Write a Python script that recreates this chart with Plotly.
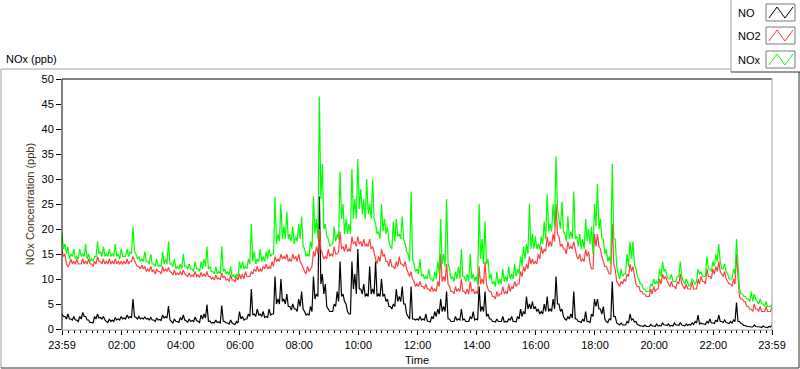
import plotly.graph_objects as go

# ---------------- data ----------------
# Upper readings every 6 minutes starting at 23:59 (minute 0) ... 23:59 next day (1440),
# and lower-band readings taken half-way between them (minute 3, 9, ...).
minutes_main = [k * 6 for k in range(241)]
minutes_mid = [k * 6 + 3 for k in range(240)]

no_main = [
    3, 2.5, 3, 2, 2.5, 1.8, 2.5, 3.3, 2.5, 1.8,
    1.3, 2.5, 3, 2.3, 2.5, 1.5, 2, 1.8, 2.3, 2,
    2.5, 2.2, 2.8, 2.5, 6, 2.3, 2.5, 2.2, 2.4, 2.1,
    2.3, 1.8, 2.2, 1.9, 2.8, 2.5, 4.6, 1.5, 2, 1.5,
    2.3, 2.8, 1.6, 2, 1.7, 2.4, 1.5, 2.8, 3, 4.9,
    1.6, 1.3, 1.8, 1.4, 4.7, 1.5, 1.2, 1.8, 1, 1.5,
    3.5, 2.5, 2, 3, 8, 3, 4, 3, 3.5, 2.5,
    4, 3, 10.5, 6, 10, 6, 7, 4.5, 5, 4,
    6, 7.5, 3.5, 3, 4.5, 10.5, 7, 26.5, 11, 9,
    4, 3.5, 5, 7.5, 13.5, 7, 5, 3, 13.5, 11,
    16, 8, 9, 7, 12.5, 8, 13.5, 7, 10, 7,
    6, 4.5, 5, 8, 6.5, 8.5, 5, 2.5, 8.5, 2,
    2, 2.5, 2, 3, 1.5, 2.5, 3.5, 4, 6, 4.5,
    7.5, 2, 1.5, 2.5, 2, 4, 2, 1.5, 2.5, 3.5,
    2, 8.5, 4.5, 7.5, 3, 2, 1.5, 2, 1.5, 2.5,
    1.5, 2, 2.5, 1.5, 2.5, 4, 3.5, 6.5, 5, 5.5,
    4.5, 4, 3.5, 5, 6.5, 4, 6, 10.5, 5, 4,
    2, 2.5, 3, 7.5, 2, 1.5, 2, 3.5, 1.5, 3,
    6, 6, 4, 4.5, 1.5, 2, 9.5, 2.5, 1, 1.2,
    0.8, 1.5, 3, 2, 1.5, 0.8, 0.6, 0.8, 0.5, 0.9,
    0.6, 1, 0.7, 1.2, 0.8, 1, 0.7, 1.2, 0.8, 1.3,
    0.7, 1, 0.9, 1.2, 1.5, 2.8, 1.2, 1, 1.5, 2,
    1.2, 1.8, 2.8, 1.5, 1.8, 1.2, 1.5, 1.8, 5.3, 1.5,
    1, 0.7, 0.5, 0.4, 0.8, 0.5, 0.4, 0.6, 0.3, 0.5,
    0.8,
]
no_mid = [
    2.5, 2, 2, 1.8, 1.8, 1.5, 2, 2.5, 1.8, 1.3,
    1.2, 2, 2.2, 2, 1.8, 1.3, 1.5, 1.5, 1.8, 1.8,
    2, 2, 2.2, 2.3, 2.5, 2, 2, 2, 2, 1.8,
    1.8, 1.5, 1.8, 1.7, 2.2, 2.2, 1.8, 1.2, 1.5, 1.3,
    1.8, 1.8, 1.4, 1.5, 1.5, 1.7, 1.3, 2, 2.2, 1.5,
    1.2, 1.2, 1.3, 1.2, 1.6, 1.2, 1, 1.2, 0.9, 1.2,
    2, 1.8, 2, 2.5, 2.8, 2.5, 2.8, 2.5, 2.3, 2.3,
    2.8, 3, 5, 5, 5.5, 5, 4.5, 3.8, 4, 3.5,
    4.5, 4, 2.8, 2.8, 3.5, 6, 6.5, 9, 7, 4.5,
    3.5, 3.5, 4.5, 5.5, 6.5, 5.5, 3.5, 3, 8, 7,
    8, 7, 6.5, 6.5, 7, 7, 6.5, 6.5, 6.5, 5.5,
    4.5, 4, 4.5, 5.5, 5.5, 5, 3, 2, 2, 1.8,
    1.8, 1.8, 1.8, 1.6, 1.4, 2, 2.5, 3, 3.5, 3.5,
    2, 1.5, 1.5, 1.8, 1.8, 1.8, 1.5, 1.5, 2, 1.8,
    1.8, 3.5, 3.5, 2.5, 2, 1.5, 1.4, 1.5, 1.5, 1.4,
    1.4, 1.8, 1.5, 1.4, 2, 2.5, 3, 4, 4, 4,
    3.5, 3, 3, 3.5, 3.5, 3.5, 4, 5, 3.5, 2.5,
    1.8, 2, 2.2, 2, 1.5, 1.3, 1.5, 1.5, 1.3, 2.5,
    4.5, 4, 3, 2, 1.3, 1.8, 2.5, 1.2, 0.8, 0.8,
    0.8, 1.2, 1.8, 1.4, 0.9, 0.6, 0.5, 0.5, 0.5, 0.6,
    0.5, 0.6, 0.6, 0.8, 0.7, 0.6, 0.6, 0.8, 0.7, 0.8,
    0.6, 0.7, 0.8, 0.9, 1.2, 1, 1, 0.9, 1.2, 1.2,
    1.1, 1.4, 1.5, 1.3, 1.3, 1.1, 1.2, 1.5, 1.5, 1.1,
    0.7, 0.5, 0.4, 0.4, 0.5, 0.4, 0.3, 0.4, 0.3, 0.4,
]

no2_main = [
    15.8, 15, 12.5, 14, 13.5, 14, 13, 14, 13.5, 14,
    13, 13.5, 14.5, 13.5, 14, 13.5, 14, 13.5, 14, 13.5,
    13.5, 13.5, 14, 13.5, 14.5, 13, 12.5, 12.8, 12.5, 12,
    12.5, 11.8, 12, 11.5, 12.5, 12, 12.3, 11.3, 11.8, 11.2,
    11.5, 11.8, 10.8, 11.2, 10.8, 11.5, 10.8, 11.3, 11, 11.5,
    10.5, 10.3, 10.8, 10.2, 11.2, 10.5, 10, 10.8, 9.8, 10.5,
    11, 11, 11.5, 10.5, 11.5, 12, 12.5, 12, 12.5, 13,
    12.5, 13.5, 14.5, 14, 15, 14.5, 15, 14, 15, 14.5,
    15, 13, 11.5, 12.5, 12, 15.5, 16.5, 20, 15, 14.5,
    16, 15, 16.5, 15, 19.5, 16.5, 17, 16, 18.5, 17.5,
    18.5, 17.5, 18, 17, 18, 16.5, 14, 14.5, 16, 15,
    13.5, 14, 12.5, 13.5, 14.5, 13, 13.5, 11, 11.5, 9.5,
    9, 9.5, 8.5, 9, 8, 8.5, 8, 9.5, 15, 10.5,
    13, 8.5, 7.5, 8.5, 8, 10, 7.5, 8, 9.5, 8,
    7.5, 12.5, 10, 13.5, 8, 7.5, 6.5, 7.5, 7, 8.5,
    7.5, 9, 8.5, 9.5, 9, 11.5, 12.5, 13, 14.5, 14,
    13.5, 15, 16.5, 16, 18.5, 17.5, 19, 25, 18.5, 17,
    16, 17.5, 16.5, 17.5, 14.5, 15, 14, 16, 15.5, 12,
    19, 19, 16, 13.5, 12.5, 11, 21, 12, 9, 9.5,
    10, 11, 13, 12.5, 9, 8.5, 7.5, 7, 6.5, 8,
    8.5, 8, 10, 11, 10.5, 9, 9.5, 8.5, 9.5, 11,
    8.5, 9, 8, 9.5, 8, 10, 10.5, 9.5, 12, 10.5,
    12, 12.5, 13.5, 11, 11.5, 9.5, 9, 10, 15, 6.5,
    6, 5.5, 4.5, 4, 5, 4, 4.5, 3.5, 4.5, 3.5,
    4.5,
]
no2_mid = [
    14.5, 13, 13, 13, 13, 13, 13, 13, 13, 13,
    12.5, 13, 13.5, 13, 13, 13, 13, 13, 13, 13,
    13, 13, 13, 13.5, 13.5, 12.5, 12, 12, 11.5, 11.5,
    11.5, 11, 11.5, 11, 11.5, 11.5, 11.5, 10.8, 10.8, 10.8,
    10.8, 11, 10.5, 10.5, 10.5, 10.5, 10.3, 10.5, 10.5, 10.5,
    10, 9.8, 10, 9.8, 10.3, 9.8, 9.5, 9.8, 9.5, 9.8,
    10, 10, 10.5, 10.5, 11, 11.5, 11.5, 11.5, 12, 12,
    12, 12.5, 13.5, 13.5, 14, 14, 13.5, 13.5, 14, 13.5,
    13.5, 12, 11, 11.5, 12.5, 14.5, 15, 16, 14, 14,
    14.5, 14.5, 15, 15.5, 16, 15.5, 15.5, 15.5, 17, 16.5,
    17, 16.5, 16.5, 16.5, 16, 15, 13, 13.5, 14.5, 13.5,
    12.5, 12.5, 12, 12.5, 13, 12.5, 12, 10.5, 10, 8.5,
    8.5, 8.5, 8, 8, 7.5, 7.5, 7.5, 8.5, 9.5, 9.5,
    9, 7.5, 7, 7.5, 7.5, 7.5, 7, 7, 7.5, 7,
    7, 9, 9, 9, 7.5, 6.5, 6, 6.5, 7, 7,
    7, 7.5, 8, 8.5, 9, 10.5, 11.5, 12, 13, 13,
    13, 14, 15, 15.5, 16.5, 16.5, 17.5, 19, 16.5, 16,
    15, 16, 16, 15.5, 14, 13.5, 13.5, 14.5, 13, 12,
    16.5, 16.5, 14.5, 12.5, 11.5, 11, 13, 9.5, 8.5, 9,
    9.5, 10.5, 11.5, 10.5, 8.5, 7.5, 7, 6.5, 6.5, 7,
    7.5, 8, 9, 10, 9.5, 8.5, 8.5, 8, 9, 9,
    8, 8, 8, 8, 8, 9, 9.5, 9, 10.5, 10,
    11, 11.5, 11.5, 10.5, 10, 9, 8.5, 9, 10, 6,
    5.5, 4.5, 4, 3.5, 4, 3.5, 3.5, 3.5, 3.5, 3.5,
]

nox_main = [
    19, 17, 16.5, 15, 16, 14.5, 16, 15, 17, 15,
    14, 14.5, 17.5, 15.5, 16.5, 15, 16, 15, 17, 15,
    16, 14.5, 16, 15.5, 20.5, 15, 14.5, 14, 15.5, 13.5,
    15, 13, 14, 12.8, 15.5, 14, 17.5, 13, 14, 12.5,
    13, 15, 12.5, 13, 12, 13.5, 12, 13.5, 14, 16.5,
    12.5, 11.5, 12.5, 11.5, 16.5, 12, 11.5, 12.5, 10.8, 11,
    13.5, 13.5, 12.5, 14, 21, 15.5, 14, 16, 14.5, 15.5,
    16, 15, 26.5, 19, 25, 20.5, 23.5, 19, 20.5, 18.5,
    21, 22.5, 16, 15, 17.5, 26.5, 22, 46.5, 33, 21,
    18, 17, 20.5, 19, 31.5, 25, 22, 21, 32, 26,
    34, 28, 26, 30, 25, 30, 21, 19.5, 25, 22,
    20.5, 16.5, 21.5, 22, 19, 22.5, 17, 15, 27.5, 13,
    12, 14, 11, 10.5, 12, 10, 11.5, 13.5, 22, 15,
    26, 12, 10.5, 11.5, 12.5, 16, 10.5, 11, 15, 11,
    10.5, 25, 18, 21.5, 14, 11, 9.5, 11.5, 10, 12,
    10.5, 12.5, 11, 13, 12, 14.5, 16.5, 17, 25, 19,
    18.5, 17, 18.5, 21.5, 27, 21, 25, 34.5, 22, 25.5,
    19, 22.5, 19.5, 27.5, 18.5, 19, 18, 22, 20, 20.5,
    25, 29, 22, 18, 16, 14.5, 33, 18, 11, 12,
    11, 15, 17.5, 17.5, 12, 10, 9, 8, 7.5, 9,
    10, 9.5, 12, 13.5, 12, 10, 11, 9.5, 10.5, 13.5,
    9.5, 10, 8.5, 10, 9, 12, 11.5, 10.5, 14.5, 12,
    13.5, 15, 17, 12, 13, 11, 10, 12, 18, 8,
    7, 6.5, 6, 7.5, 7, 5.5, 6, 5, 5.5, 4.5,
    5,
]
nox_mid = [
    16, 15, 14, 14.5, 14, 14, 14.5, 14.5, 14, 13.5,
    13.5, 14.5, 15, 14.5, 14.5, 14.5, 14.5, 14.5, 14.5, 14,
    14.5, 14.5, 14.5, 15, 15.5, 14, 13.5, 13.5, 13.5, 13,
    13, 12.5, 12.5, 12.5, 13, 13, 13, 12.5, 12, 12,
    12, 12.5, 12, 12, 11.5, 12, 11.5, 12, 12.5, 12,
    11.5, 11, 11, 11, 11.5, 11, 10.8, 10.5, 10.2, 10.5,
    12, 12, 12, 13, 13.5, 13, 13.5, 13.5, 13.5, 14,
    14.5, 15, 17, 17.5, 18, 18, 18, 17.5, 17, 17.5,
    18, 16.5, 14.5, 14.5, 16, 19, 18, 26, 20, 18.5,
    16.5, 17, 17.5, 18, 22, 19, 19, 19, 22, 22,
    24, 23, 22, 23, 22, 22, 19, 18, 19.5, 19,
    17.5, 16, 17.5, 18.5, 18, 18, 15.5, 13.5, 14, 11.5,
    11, 10.5, 10, 10, 10, 9.5, 10, 11, 13, 12.5,
    13, 10, 9.5, 10, 10, 10.5, 9.5, 9.5, 10, 9.5,
    9, 14, 13, 13, 10, 9, 8.5, 9, 9, 9.5,
    9.5, 10, 10, 10.5, 11, 12.5, 14, 15, 16, 16,
    16, 16, 17, 18, 19.5, 19.5, 20.5, 24, 20, 19.5,
    17.5, 18, 18, 18, 16.5, 16, 16, 17.5, 17, 15,
    20.5, 20, 18, 15, 13.5, 13, 18, 12.5, 10, 10.5,
    11, 12.5, 14, 13, 10.5, 9, 8, 7.5, 7.5, 8.5,
    9, 9, 10.5, 11.5, 10.5, 10, 9.5, 9.5, 10.5, 10.5,
    9, 9, 9, 9.5, 9.5, 11, 10.5, 10.5, 12, 11.5,
    12.5, 13.5, 13.5, 12, 11.5, 10, 10, 11, 12, 7,
    6.5, 6, 5.5, 5.5, 6, 5, 5, 4.5, 4.5, 4.5,
]

tick_minutes = [0, 121, 241, 361, 481, 601, 721, 841, 961, 1081, 1201, 1321, 1440]
tick_labels = ["23:59", "02:00", "04:00", "06:00", "08:00", "10:00", "12:00",
               "14:00", "16:00", "18:00", "20:00", "22:00", "23:59"]

series_names = ["NO", "NO2", "NOx"]
series_colors = ["#000000", "#ff4040", "#00ff00"]


def merge(main_t, main_v, mid_t, mid_v):
    """Put the two sets of readings in time order."""
    t, v = [], []
    for k in range(len(mid_t)):
        t += [main_t[k], mid_t[k]]
        v += [main_v[k], mid_v[k]]
    t.append(main_t[-1])
    v.append(main_v[-1])
    return t, v


# ---------------- layout helpers (pixel -> paper) ----------------
L, R, T, B = 62, 772, 79, 329  # plot area in pixels
def px(x):
    return (x - L) / (R - L)
def py(y):
    return (B - y) / (B - T)

FONT = "Liberation Sans, Arial, sans-serif"

fig = go.Figure()
for name, mv, dv, col in zip(series_names, [no_main, no2_main, nox_main],
                             [no_mid, no2_mid, nox_mid], series_colors):
    t, v = merge(minutes_main, mv, minutes_mid, dv)
    fig.add_trace(go.Scatter(x=t, y=v, mode="lines", name=name,
                             line=dict(color=col, width=1.2), showlegend=False))

shapes = []
def line(x0, y0, x1, y1, color, width=1):
    shapes.append(dict(type="line", xref="paper", yref="paper",
                       x0=px(x0), y0=py(y0), x1=px(x1), y1=py(y1),
                       line=dict(color=color, width=width), layer="above"))

# outer frame
line(1, 69, 731, 69, "#a0a0a0")
line(1, 69, 1, 368, "#a0a0a0")
line(1, 368, 799, 368, "#303030")
line(799, 72, 799, 368, "#303030")
# plot area frame
line(62, 79, 772, 79, "#000000")
line(62, 79, 62, 330, "#000000")
line(772, 79, 772, 330, "#a0a0a0")
line(62, 330, 772, 330, "#a0a0a0")
# legend box
line(731, 0, 731, 72, "#a0a0a0")
line(731, 72, 800, 72, "#303030")

annotations = [
    dict(text="NOx (ppb)", xref="paper", yref="paper", x=px(4), y=py(59),
         xanchor="left", yanchor="middle", showarrow=False,
         font=dict(family=FONT, size=11, color="#000000")),
    dict(text="Time", xref="paper", yref="paper", x=0.5, y=py(360),
         xanchor="center", yanchor="middle", showarrow=False,
         font=dict(family=FONT, size=11, color="#000000")),
]

legend_rows = [(4, 21), (27, 44), (51, 68)]
for (yt, yb), name, col in zip(legend_rows, series_names, series_colors):
    annotations.append(dict(text=name, xref="paper", yref="paper", x=px(736),
                            y=py((yt + yb) / 2 + 0.5), xanchor="left", yanchor="middle",
                            showarrow=False, font=dict(family=FONT, size=11, color="#000000")))
    shapes.append(dict(type="rect", xref="paper", yref="paper",
                       x0=px(766), x1=px(795), y0=py(yb), y1=py(yt),
                       line=dict(color="#7a7a7a", width=1), fillcolor="#ffffff"))
    path = "M {} {} L {} {} L {} {} L {} {}".format(
        px(769), py(yb - 3), px(777), py(yt + 3), px(785), py(yb - 3), px(793), py(yt + 3))
    shapes.append(dict(type="path", xref="paper", yref="paper", path=path,
                       line=dict(color=col, width=1)))

fig.update_layout(
    width=800, height=369,
    margin=dict(l=L, r=800 - R, t=T, b=369 - B, pad=0, autoexpand=False),
    paper_bgcolor="#ffffff", plot_bgcolor="#ffffff",
    font=dict(family=FONT, size=11, color="#000000"),
    shapes=shapes, annotations=annotations,
    xaxis=dict(range=[0, 1440], showgrid=False, zeroline=False, showline=False,
               automargin=False,
               tickmode="array", tickvals=tick_minutes, ticktext=tick_labels,
               ticks="outside", ticklen=5, tickwidth=1, tickcolor="#000000",
               ticklabelstandoff=1,
               tickfont=dict(family=FONT, size=11, color="#000000"),
               minor=dict(ticks="outside", ticklen=3, tickwidth=1, tickcolor="#000000",
                          dtick=12, tick0=1, showgrid=False)),
    yaxis=dict(range=[0, 50], showgrid=False, zeroline=False, showline=False,
               automargin=False,
               tickmode="linear", tick0=0, dtick=5,
               ticks="outside", ticklen=5, tickwidth=1, tickcolor="#000000",
               tickfont=dict(family=FONT, size=11, color="#000000"),
               title=dict(text="NOx Concentration (ppb)", standoff=4,
                          font=dict(family=FONT, size=11, color="#3d3320"))),
)

fig.write_html("out.html", config={"displayModeBar": False},
               post_script="document.body.style.margin='0';document.body.style.overflow='hidden';")
